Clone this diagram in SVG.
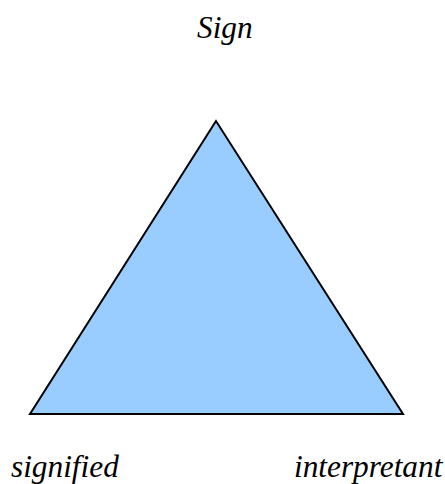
<svg xmlns="http://www.w3.org/2000/svg" width="445" height="484" viewBox="0 0 445 484">
<style>
.lbl{font-family:'Liberation Serif','Times New Roman',serif;font-style:italic;font-size:31.3px;fill:#000}
</style>
<rect width="445" height="484" fill="#fff"/>
<g id="triangle">
<polygon points="216,121 30,414 403,414" fill="#99CCFF" stroke="#000" stroke-width="2"/>
</g>
<g id="sign"><text class="lbl" x="197" y="38">Sign</text></g>
<g id="signified"><text class="lbl" x="11" y="477">signified</text></g>
<g id="interpretant"><text class="lbl" x="294" y="477">interpretant</text></g>
<g id="connectors"></g>
</svg>
